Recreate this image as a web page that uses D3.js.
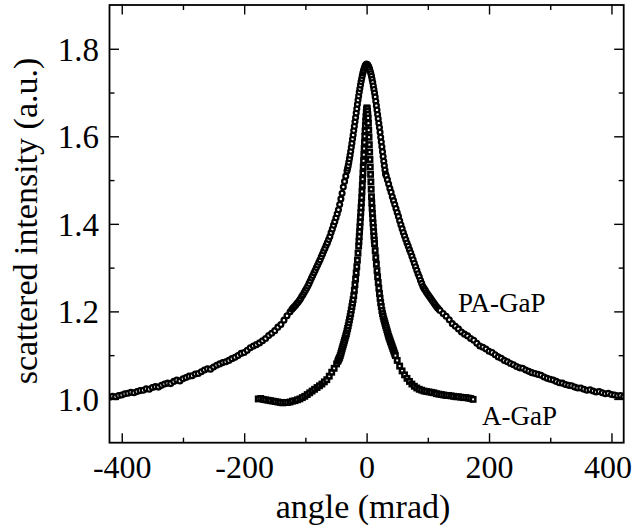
<!DOCTYPE html>
<html>
<head>
<meta charset="utf-8">
<script src="https://cdn.jsdelivr.net/npm/d3@7"></script>
<style>
  html, body { margin: 0; padding: 0; background: #fff; }
  svg { display: block; }
  svg text { font-family: "Liberation Serif", "Times New Roman", Times, "DejaVu Serif", serif !important; fill: #000; }
</style>
</head>
<body>
<svg id="chart" width="634" height="529"></svg>
<script>
// ---------- DATA ----------
const xTicks = [-400, -200, 0, 200, 400];
const xMinorTicks = [-300, -100, 100, 300];
const yTicks = [1.0, 1.2, 1.4, 1.6, 1.8];
const yMinorTicks = [1.1, 1.3, 1.5, 1.7];
const xTickLabels = ["-400", "-200", "0", "200", "400"];
const yTickLabels = ["1.0", "1.2", "1.4", "1.6", "1.8"];
const seriesNames = ["PA-GaP", "A-GaP"];

// PA-GaP (open circles): angle (mrad)
const paAngle = [
 -420,-415,-410,-405,-400,-395,-390,-385,-380,-375,-370,-365,-360,-355,-350,-345,-340,-335,-330,-325,
 -320,-315,-310,-305,-300,-295,-290,-285,-280,-275,-270,-265,-260,-255,-250,-245,-240,-235,-230,-225,
 -220,-215,-210,-205,-200,-195,-190,-185,-180,-175,-170,-165,-160,-155,-150,-145,-140,-135,-130,-125,
 -122,-120,-118,-116,-114,-112,-110,-108,-106,-104,-102,-100,-98,-96,-94,-92,-90,-88,-86,-84,
 -82,-80,-78,-76,-74,-72,-70,-68,-66,-64,-62,-60,-58,-56,-54,-52,-50,-48,-46,-44,
 -42,-40,-38,-36,-34,-32,
 -31,-30,-29,-28,-27,-26,-25,-24,-23,-22,-21,-20,-19,-18,-17,-16,-15,-14,-13,-12,
 -11,-10,-9,-8,-7,-6,-5,-4,-3,-2,-1,0,1,2,3,4,5,6,7,8,
 9,10,11,12,13,14,15,16,17,18,19,20,21,22,23,24,25,26,27,28,29,30,31,
 32,34,36,38,40,42,44,46,48,50,52,54,56,58,60,62,64,66,68,70,
 72,74,76,78,80,82,84,86,88,90,92,94,96,98,100,102,104,106,108,110,112,114,116,118,120,
 125,130,135,140,145,150,155,160,165,170,175,180,185,190,195,200,205,210,215,220,
 225,230,235,240,245,250,255,260,265,270,275,280,285,290,295,300,305,310,315,320,
 325,330,335,340,345,350,355,360,365,370,375,380,385,390,395,400,405,410,415,420
];
// PA-GaP: scattered intensity (a.u.)
const paIntensity = [
 1.004,1.006,1.005,1.008,1.009,1.012,1.013,1.015,1.014,1.017,1.019,1.020,1.023,1.022,1.026,1.028,1.027,1.031,1.034,1.036,
 1.035,1.040,1.043,1.041,1.046,1.049,1.052,1.053,1.057,1.058,1.062,1.066,1.069,1.068,1.073,1.077,1.080,1.083,1.085,1.088,
 1.092,1.095,1.099,1.104,1.106,1.111,1.117,1.121,1.124,1.128,1.133,1.138,1.145,1.150,1.156,1.164,1.170,1.180,1.190,1.199,
 1.205,1.208,1.211,1.214,1.218,1.221,1.225,1.229,1.234,1.238,1.243,1.248,1.253,1.258,1.264,1.270,1.276,1.282,1.288,1.294,
 1.300,1.306,1.312,1.318,1.325,1.331,1.338,1.344,1.351,1.357,1.364,1.371,1.380,1.388,1.397,1.405,1.414,1.423,1.432,1.444,
 1.457,1.470,1.484,1.497,1.509,1.521,
 1.527,1.533,1.541,1.549,1.557,1.566,1.575,1.584,1.594,1.603,1.613,1.623,1.633,1.643,1.653,1.663,1.673,1.683,1.692,1.701,
 1.709,1.717,1.725,1.732,1.739,1.745,1.750,1.755,1.759,1.762,1.764,1.765,1.764,1.763,1.760,1.757,1.753,1.748,1.743,1.737,
 1.730,1.723,1.715,1.707,1.699,1.690,1.680,1.670,1.660,1.650,1.640,1.630,1.620,1.609,1.598,1.587,1.576,1.565,1.554,1.543,1.533,1.523,1.514,
 1.510,1.501,1.491,1.481,1.472,1.462,1.453,1.444,1.435,1.426,1.417,1.407,1.398,1.389,1.380,1.372,1.364,1.356,1.349,1.341,
 1.334,1.326,1.318,1.310,1.302,1.294,1.286,1.279,1.271,1.264,1.257,1.252,1.248,1.243,1.239,1.235,1.231,1.227,1.223,1.219,1.215,1.211,1.208,1.205,1.202,
 1.195,1.189,1.181,1.172,1.166,1.160,1.153,1.148,1.144,1.138,1.134,1.127,1.121,1.118,1.114,1.109,1.106,1.101,1.096,1.093,
 1.088,1.085,1.081,1.078,1.074,1.071,1.070,1.066,1.063,1.060,1.058,1.056,1.054,1.050,1.047,1.045,1.043,1.040,1.037,1.036,
 1.033,1.031,1.030,1.027,1.025,1.025,1.022,1.020,1.021,1.018,1.016,1.017,1.014,1.012,1.013,1.010,1.009,1.007,1.008,1.005
];

// A-GaP (open squares): angle (mrad)
const aAngle = [
 -177,-173,-169,-165,-161,-157,-153,-149,-145,-141,-137,-133,-129,-125,-121,-117,-113,-109,-105,-101,
 -97,-93,-89,-85,-81,-77,-73,-69,-65,-61,-57,-53,-49,
 -47,-46,-45,-44,-43,-42,-41,-40,-39,-38,-37,-36,-35,-34,-33,-32,-31,-30,-29,-28,
 -27,-26,-25,-24,-23,-22,-21,-20,-19,-18,-17,-16,-15,-14,-13,
 -12.5,-12,-11.5,-11,-10.5,-10,-9.5,-9,-8.5,-8,-7.5,-7,-6.5,-6,-5.5,-5,-4.5,-4,-3.5,-3,
 -2.5,-2,-1.5,-1,-0.5,0,0.5,1,1.5,2,2.5,3,3.5,4,4.5,5,5.5,6,6.5,7,
 7.5,8,8.5,9,9.5,10,10.5,11,11.5,12,12.5,
 13,14,15,16,17,18,19,20,21,22,23,24,25,26,27,28,29,30,31,32,
 33,34,35,36,37,38,39,40,41,42,43,44,45,46,47,
 50,54,58,62,66,70,74,78,82,86,90,94,98,102,106,110,114,118,122,126,
 130,134,138,142,146,150,154,158,162,166,170,174
];
// A-GaP: scattered intensity (a.u.)
const aIntensity = [
 1.000,1.001,0.999,0.998,0.997,0.996,0.995,0.994,0.993,0.992,0.991,0.992,0.992,0.993,0.995,0.996,0.998,1.000,1.003,1.006,
 1.010,1.014,1.018,1.022,1.026,1.030,1.034,1.039,1.044,1.052,1.061,1.070,1.080,
 1.086,1.089,1.092,1.095,1.099,1.104,1.109,1.114,1.119,1.124,1.129,1.134,1.139,1.144,1.149,1.155,1.161,1.167,1.174,1.181,
 1.188,1.195,1.203,1.211,1.219,1.227,1.236,1.248,1.261,1.274,1.288,1.302,1.317,1.333,1.349,
 1.360,1.371,1.382,1.393,1.404,1.415,1.426,1.437,1.448,1.460,1.474,1.488,1.502,1.516,1.530,1.544,1.558,1.572,1.586,1.600,
 1.612,1.624,1.635,1.645,1.654,1.661,1.665,1.663,1.657,1.650,1.642,1.630,1.614,1.598,1.581,1.564,1.547,1.530,1.513,1.496,
 1.479,1.462,1.448,1.436,1.424,1.413,1.402,1.392,1.382,1.372,1.363,
 1.355,1.339,1.323,1.308,1.293,1.279,1.266,1.253,1.241,1.230,1.220,1.211,1.202,1.195,1.189,1.183,1.178,1.173,1.168,1.163,
 1.158,1.153,1.148,1.143,1.139,1.135,1.131,1.127,1.123,1.119,1.115,1.111,1.107,1.103,1.099,
 1.088,1.075,1.064,1.055,1.047,1.040,1.034,1.029,1.025,1.022,1.020,1.018,1.017,1.016,1.015,1.014,1.012,1.011,1.010,1.009,
 1.008,1.008,1.007,1.006,1.005,1.005,1.004,1.003,1.003,1.002,1.001,0.999
];

// ---------- LAYOUT ----------
const FONT = "'Liberation Serif', 'Times New Roman', Times, 'DejaVu Serif', serif";
const svg = d3.select("#chart");
const plot = { left: 109.5, right: 623.7, top: 5, bottom: 442.7 };

const x = d3.scaleLinear().domain([-420, 420]).range([plot.left, plot.right]);
const y = d3.scaleLinear().domain([0.9, 1.9]).range([plot.bottom, plot.top]);

const paData = paAngle.map((a, i) => ({ a, v: paIntensity[i] }));
const aData = aAngle.map((a, i) => ({ a, v: aIntensity[i] }));

svg.append("defs").append("clipPath").attr("id", "clip")
  .append("rect").attr("x", plot.left).attr("y", plot.top)
  .attr("width", plot.right - plot.left).attr("height", plot.bottom - plot.top);

const gData = svg.append("g").attr("clip-path", "url(#clip)");

// PA-GaP open circles
gData.append("g").selectAll("circle").data(paData).join("circle")
  .attr("cx", d => x(d.a)).attr("cy", d => y(d.v)).attr("r", 2.4)
  .attr("fill", "#fff").attr("stroke", "#000").attr("stroke-width", 2.3);

// A-GaP open squares
const sq = 4.4;
gData.append("g").selectAll("rect").data(aData).join("rect")
  .attr("x", d => x(d.a) - sq / 2).attr("y", d => y(d.v) - sq / 2)
  .attr("width", sq).attr("height", sq)
  .attr("fill", "#fff").attr("stroke", "#000").attr("stroke-width", 2.5);

// ---------- AXES (ticks inward on all four sides) ----------
const majorLen = 9.5, minorLen = 5;
const axisStyle = g => {
  g.attr("font-family", FONT);
  g.select(".domain").remove();
  g.selectAll(".tick line").attr("stroke", "#000").attr("stroke-width", 1.4);
};

// bottom
svg.append("g").attr("transform", `translate(0,${plot.bottom})`)
  .call(d3.axisBottom(x).tickValues(xTicks).tickSize(-majorLen)
        .tickFormat((d, i) => xTickLabels[i]))
  .call(axisStyle)
  .call(g => g.selectAll(".tick text").attr("font-size", 32)
        .attr("font-family", FONT)
        .attr("y", 0).attr("dy", null)
        .attr("transform", (d, i) => `translate(${i === xTicks.length - 1 ? -4 : 0},35)`));
svg.append("g").attr("transform", `translate(0,${plot.bottom})`)
  .call(d3.axisBottom(x).tickValues(xMinorTicks).tickSize(-minorLen).tickFormat(""))
  .call(axisStyle);
// top
svg.append("g").attr("transform", `translate(0,${plot.top})`)
  .call(d3.axisTop(x).tickValues(xTicks).tickSize(-majorLen).tickFormat(""))
  .call(axisStyle);
svg.append("g").attr("transform", `translate(0,${plot.top})`)
  .call(d3.axisTop(x).tickValues(xMinorTicks).tickSize(-minorLen).tickFormat(""))
  .call(axisStyle);
// left
svg.append("g").attr("transform", `translate(${plot.left},0)`)
  .call(d3.axisLeft(y).tickValues(yTicks).tickSize(-majorLen)
        .tickFormat((d, i) => yTickLabels[i]))
  .call(axisStyle)
  .call(g => g.selectAll(".tick text").attr("font-size", 33)
        .attr("font-family", FONT)
        .attr("x", -10.5).attr("dy", "0.34em"));
svg.append("g").attr("transform", `translate(${plot.left},0)`)
  .call(d3.axisLeft(y).tickValues(yMinorTicks).tickSize(-minorLen).tickFormat(""))
  .call(axisStyle);
// right
svg.append("g").attr("transform", `translate(${plot.right},0)`)
  .call(d3.axisRight(y).tickValues(yTicks).tickSize(-majorLen).tickFormat(""))
  .call(axisStyle);
svg.append("g").attr("transform", `translate(${plot.right},0)`)
  .call(d3.axisRight(y).tickValues(yMinorTicks).tickSize(-minorLen).tickFormat(""))
  .call(axisStyle);

// frame
svg.append("rect").attr("x", plot.left).attr("y", plot.top)
  .attr("width", plot.right - plot.left).attr("height", plot.bottom - plot.top)
  .attr("fill", "none").attr("stroke", "#000").attr("stroke-width", 1.8);

// ---------- TITLES & LABELS ----------
svg.append("text").attr("x", 363).attr("y", 518).attr("text-anchor", "middle")
  .attr("font-family", FONT).attr("font-size", 34).text("angle (mrad)");
svg.append("text").attr("transform", "translate(37,221) rotate(-90)")
  .attr("text-anchor", "middle").attr("font-family", FONT).attr("font-size", 34)
  .text("scattered intensity (a.u.)");

svg.append("text").attr("x", 458).attr("y", 312).attr("font-family", FONT).attr("font-size", 27)
  .text(seriesNames[0]);
svg.append("text").attr("x", 482).attr("y", 425).attr("font-family", FONT).attr("font-size", 27)
  .text(seriesNames[1]);
</script>
</body>
</html>
